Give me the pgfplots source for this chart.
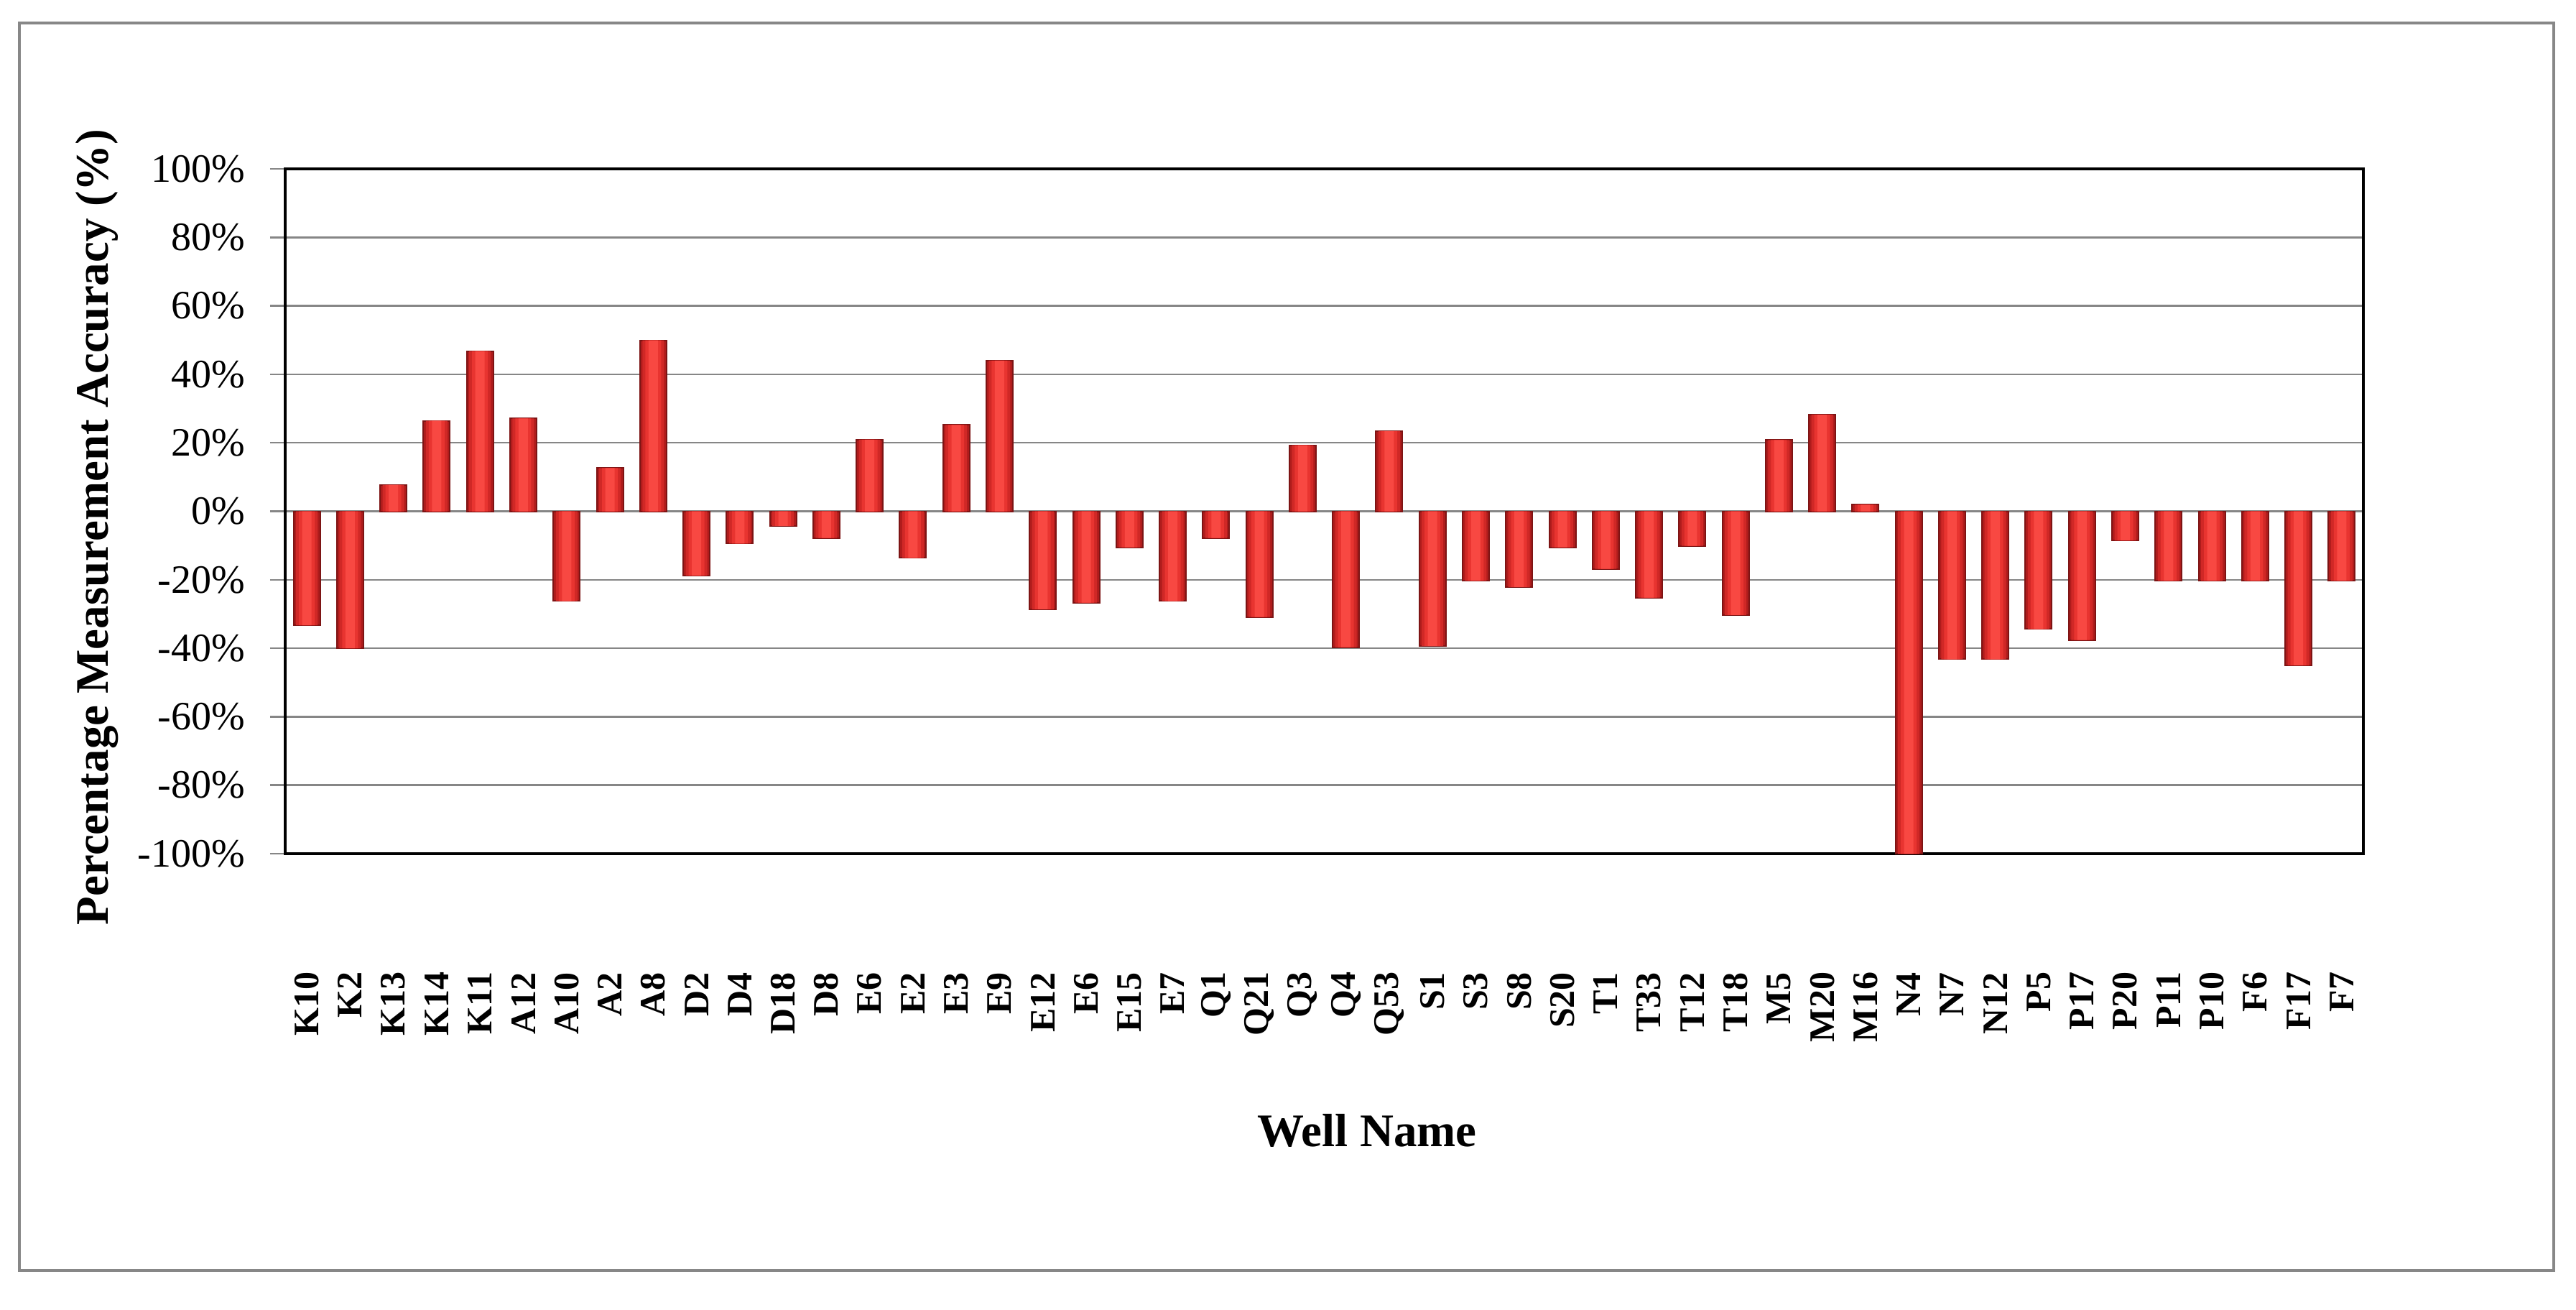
\documentclass[border=0pt]{standalone}
\usepackage{fontspec}
\setmainfont{Liberation Serif}
\usepackage{pgfplots}
\usepackage{pgfplotstable}
\pgfplotsset{compat=1.18}

\definecolor{framegray}{RGB}{135,135,135}
\definecolor{gridgray}{RGB}{134,134,134}
\definecolor{bardark}{RGB}{125,20,20}
\definecolor{barA}{RGB}{175,28,28}
\definecolor{barB}{RGB}{208,40,38}
\definecolor{barC}{RGB}{232,52,48}
\definecolor{barD}{RGB}{248,72,66}

% well index, accuracy in %
\pgfplotstableread{
x y
0 -33.3
1 -40.0
2 7.7
3 26.4
4 46.8
5 27.1
6 -26.2
7 12.6
8 49.9
9 -18.8
10 -9.4
11 -4.3
12 -7.8
13 20.9
14 -13.6
15 25.2
16 44.0
17 -28.6
18 -26.7
19 -10.5
20 -26.2
21 -7.8
22 -30.9
23 19.3
24 -39.7
25 23.4
26 -39.3
27 -20.3
28 -22.1
29 -10.5
30 -16.8
31 -25.2
32 -10.1
33 -30.3
34 20.8
35 28.2
36 1.9
37 -100
38 -43.2
39 -43.2
40 -34.4
41 -37.6
42 -8.5
43 -20.3
44 -20.3
45 -20.3
46 -45.0
47 -20.3
}\welldata

\begin{document}
\begin{tikzpicture}
\path[use as bounding box] (0,0) rectangle (717.2pt,364.4pt);
\draw[framegray, line width=0.9pt] (5.4pt,10.8pt) rectangle (711pt,358pt);
\begin{axis}[
    at={(79.4pt,126.8pt)}, anchor=south west,
    scale only axis,
    width=578.6pt, height=190.6pt,
    xmin=-0.5, xmax=47.5,
    ymin=-100, ymax=100,
    axis line style={line width=0.8pt},
    ytick={-100,-80,-60,-40,-20,0,20,40,60,80,100},
    yticklabels={-100\%,-80\%,-60\%,-40\%,-20\%,0\%,20\%,40\%,60\%,80\%,100\%},
    ytick pos=left,
    ytick align=outside,
    major tick length=4.2pt,
    ytick style={gridgray, line width=0.5pt},
    yticklabel style={font=\fontsize{11.2}{13}\selectfont, inner sep=0pt, xshift=-6.8pt},
    ymajorgrids=true,
    grid style={gridgray, line width=0.5pt},
    xtick={0,...,47},
    xtick style={draw=none},
    xticklabels={K10,K2,K13,K14,K11,A12,A10,A2,A8,D2,D4,D18,D8,E6,E2,E3,E9,E12,E6,E15,E7,Q1,Q21,Q3,Q4,Q53,S1,S3,S8,S20,T1,T33,T12,T18,M5,M20,M16,N4,N7,N12,P5,P17,P20,P11,P10,F6,F17,F7},
    xticklabel style={yshift=-32.8pt, rotate=90, anchor=east, inner sep=0pt, font=\bfseries\fontsize{10}{12}\selectfont},
    ylabel={\textbf{Percentage Measurement Accuracy (\%)}},
    every axis y label/.style={at={(rel axis cs:0,0.477)}, xshift=-52.4pt, rotate=90, anchor=center, font=\fontsize{13}{15}\selectfont},
    xlabel={\textbf{Well Name}},
    every axis x label/.style={at={(rel axis cs:0.5206,0)}, anchor=center, yshift=-77pt, font=\fontsize{13}{15}\selectfont},
]
% layered bars give each bar a dark-edged, bright-centred look
\addplot[ybar, bar width=7.4pt, bar shift=0pt, draw=bardark, line width=0.4pt, fill=barA]
    table[x=x, y=y] {\welldata};
\addplot[ybar, bar width=6.0pt, bar shift=0pt, draw=none, fill=barB]
    table[x=x, y=y] {\welldata};
\addplot[ybar, bar width=4.4pt, bar shift=0pt, draw=none, fill=barC]
    table[x=x, y=y] {\welldata};
\addplot[ybar, bar width=2.6pt, bar shift=0pt, draw=none, fill=barD]
    table[x=x, y=y] {\welldata};
\end{axis}
\end{tikzpicture}
\end{document}
